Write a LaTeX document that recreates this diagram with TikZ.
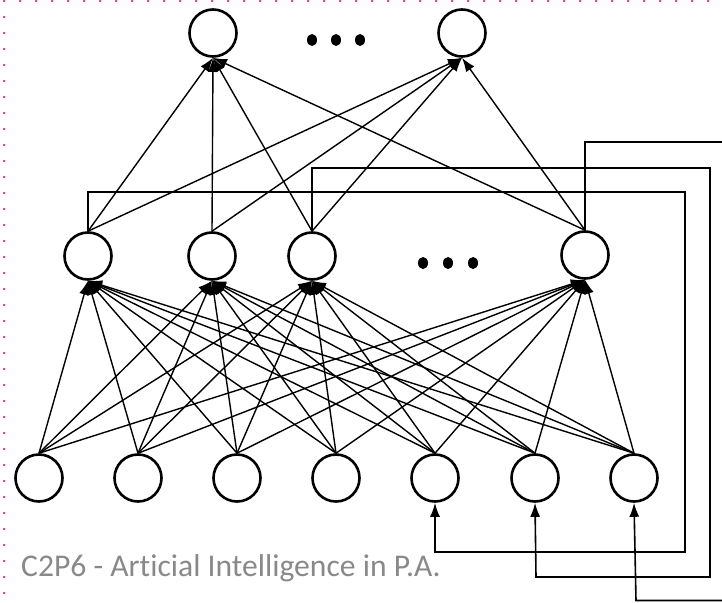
\documentclass[tikz,border=0pt]{standalone}
\usepackage{fontspec}
\setmainfont{Carlito}[Ligatures={NoCommon,NoRare}]
\usetikzlibrary{arrows.meta}
\definecolor{framepink}{RGB}{255,51,153}
\definecolor{captiongray}{RGB}{137,137,137}
\begin{document}
\begin{tikzpicture}[x=1pt,y=-1pt,
  neuron/.style={circle,draw,line width=2.6pt,minimum size=47pt,inner sep=0pt},
  link/.style={line width=1.4pt,-{Latex[length=14pt,width=10pt]}},
  loopback/.style={line width=1.6pt,line join=miter,-{Latex[length=14pt,width=10pt]}},
  ellipsis/.style={fill=black}]
  \clip (0,0) rectangle (722,602);
  \fill[white] (0,0) rectangle (722,602);

  % dotted placeholder frame
  \foreach \i in {0,...,44} \fill[framepink] (3+16*\i,0) rectangle ++(2,2);
  \foreach \i in {0,...,37} \fill[framepink] (3,16*\i) rectangle ++(2,2);

  % output layer
  \node[neuron] (o1) at (213,33) {};
  \node[neuron] (o2) at (462,33) {};
  \foreach \x in {312,336,360} \fill[ellipsis] (\x,40) ellipse [x radius=5, y radius=6];

  % hidden layer
  \node[neuron] (h1) at (88,256) {};
  \node[neuron] (h2) at (212,256) {};
  \node[neuron] (h3) at (312,256) {};
  \node[neuron] (h4) at (585,255) {};
  \foreach \x in {423,448,473} \fill[ellipsis] (\x,263) ellipse [x radius=5, y radius=6];

  % input layer
  \foreach \x [count=\i] in {39,138,237,336,435,535,634}
    \node[neuron] (i\i) at (\x,478) {};

  % input -> hidden
  \foreach \i in {1,...,7}
    \foreach \h in {1,...,4}
      \draw[link] (i\i.north) -- (h\h.south);

  % hidden -> output
  \foreach \h in {1,...,4}
    \foreach \o in {1,2}
      \draw[link] (h\h.north) -- (o\o.south);

  % recurrent context connections
  \draw[loopback] (h1.north) -- (88,192) -- (685,192) -- (685,552) -- (435,552) -- (i5.south);
  \draw[loopback] (h3.north) -- (312,168) -- (710,168) -- (710,577) -- (536,577) -- (i6.south);
  \draw[loopback] (h4.north) -- (585,142) -- (740,142) -- (740,600.5) -- (636,600.5) -- (i7.south);

  % caption
  \node[anchor=base west,inner sep=0pt,text=captiongray,font=\fontsize{31.6}{36}\selectfont]
    (caption) at (21,576) {C2P6 - Articial Intelligence in P.A.};
\end{tikzpicture}
\end{document}
